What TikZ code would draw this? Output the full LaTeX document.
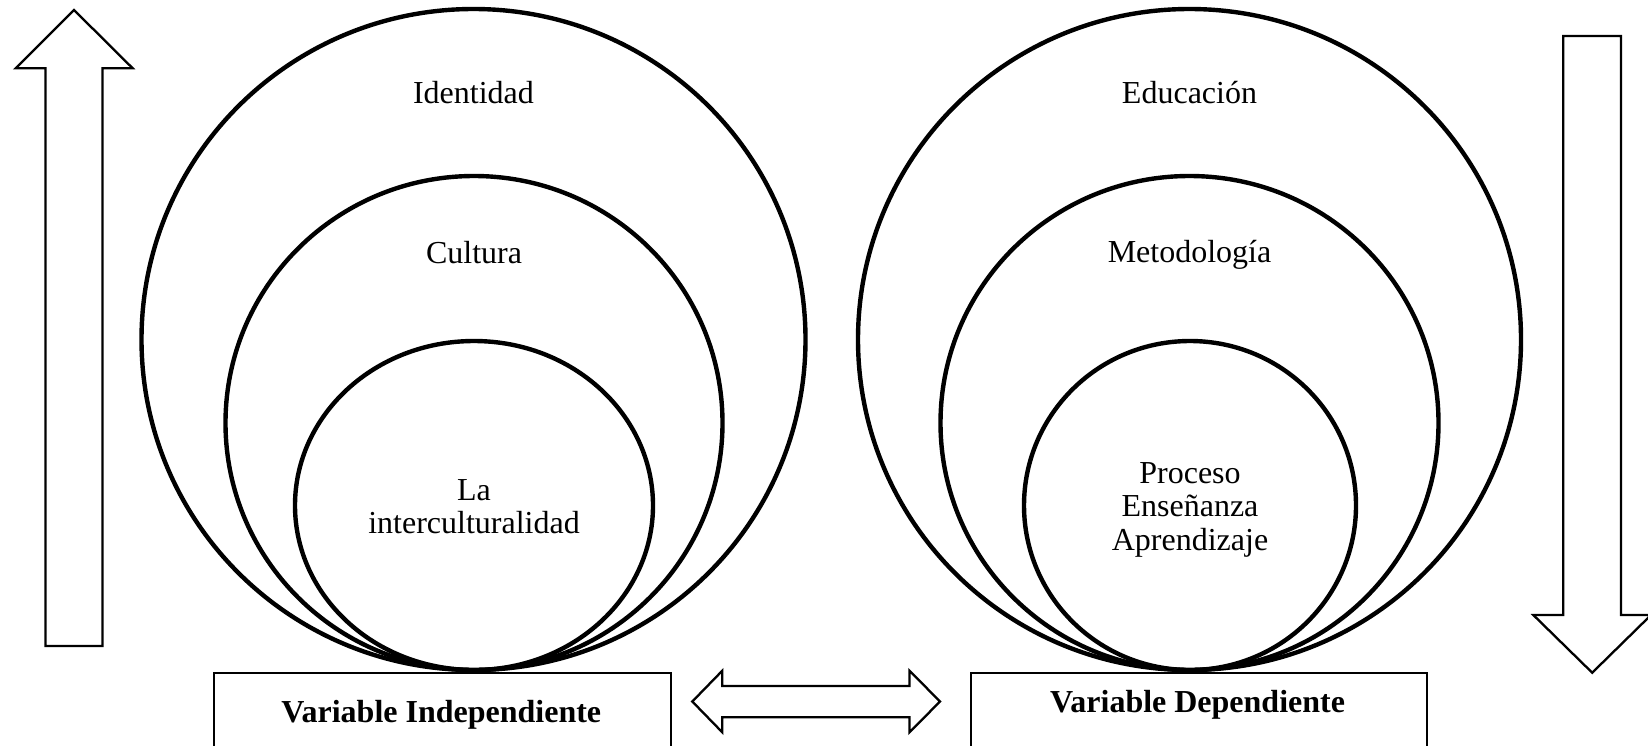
\documentclass[tikz,border=0pt]{standalone}
\usepackage{fontspec}
\setmainfont{Liberation Serif}
\usetikzlibrary{shapes.geometric}
\begin{document}
\begin{tikzpicture}[x=1pt,y=-1pt,
  ring/.style={draw, ellipse, line width=4.4pt, inner sep=0pt, outer sep=0pt},
  lbl/.style={anchor=base, inner sep=0pt, font=\fontsize{32}{34}\selectfont},
  blbl/.style={lbl, font=\fontsize{32}{34}\selectfont\bfseries},
  varbox/.style={draw, line width=2.3pt, rectangle, inner sep=0pt},
  blockarrow/.style={draw, line width=2.3pt, line join=miter}]
\clip (0,0) rectangle (1648,745);
% left rings
\node[ring, minimum width=664pt, minimum height=661pt] (L1) at (473.5,339.5) {};
\node[ring, minimum width=497pt, minimum height=494pt] (L2) at (474,423) {};
\node[ring, minimum width=358pt, minimum height=329pt] (L3) at (474,505.5) {};
\node[lbl] (tI) at (473.5,103.6) {Identidad};
\node[lbl] (tC) at (474,263.4) {Cultura};
\node[lbl] (tLa) at (474,500) {La};
\node[lbl] (tInt) at (474,533.5) {interculturalidad};
% right rings
\node[ring, minimum width=663pt, minimum height=661pt] (R1) at (1189.5,339.5) {};
\node[ring, minimum width=498pt, minimum height=494pt] (R2) at (1189.5,423) {};
\node[ring, minimum width=332pt, minimum height=329pt] (R3) at (1190,505.5) {};
\node[lbl] (tE) at (1189.5,103.6) {Educación};
\node[lbl] (tM) at (1189.5,262.8) {Metodología};
\node[lbl] (tP) at (1190,483) {Proceso};
\node[lbl] (tEn) at (1190,516.5) {Enseñanza};
\node[lbl] (tA) at (1190,550) {Aprendizaje};
% variable boxes
\node[varbox, minimum width=456.5pt, minimum height=90pt, anchor=north west] (VI) at (213,671.5) {};
\node[blbl] (tVI) at (441.3,722) {Variable Independiente};
\node[varbox, minimum width=456.2pt, minimum height=90pt, anchor=north west] (VD) at (969.5,671.5) {};
\node[blbl] (tVD) at (1197.6,712) {Variable Dependiente};
% up arrow
\draw[blockarrow] (45.5,646) -- (45.5,68.3) -- (15.7,68.3) -- (74,10) -- (132.7,68.3)
  -- (102.5,68.3) -- (102.5,646) -- cycle;
% down arrow
\draw[blockarrow] (1563.3,36) -- (1621,36) -- (1621,615) -- (1651,615) -- (1592.2,672.7)
  -- (1533.3,615) -- (1563.3,615) -- cycle;
% double arrow
\draw[blockarrow] (692.3,701.5) -- (722.3,670.7) -- (722.3,686) -- (909.5,686)
  -- (909.5,670.7) -- (940,701.5) -- (909.5,732.3) -- (909.5,717.3)
  -- (722.3,717.3) -- (722.3,732.3) -- cycle;
\end{tikzpicture}
\end{document}
